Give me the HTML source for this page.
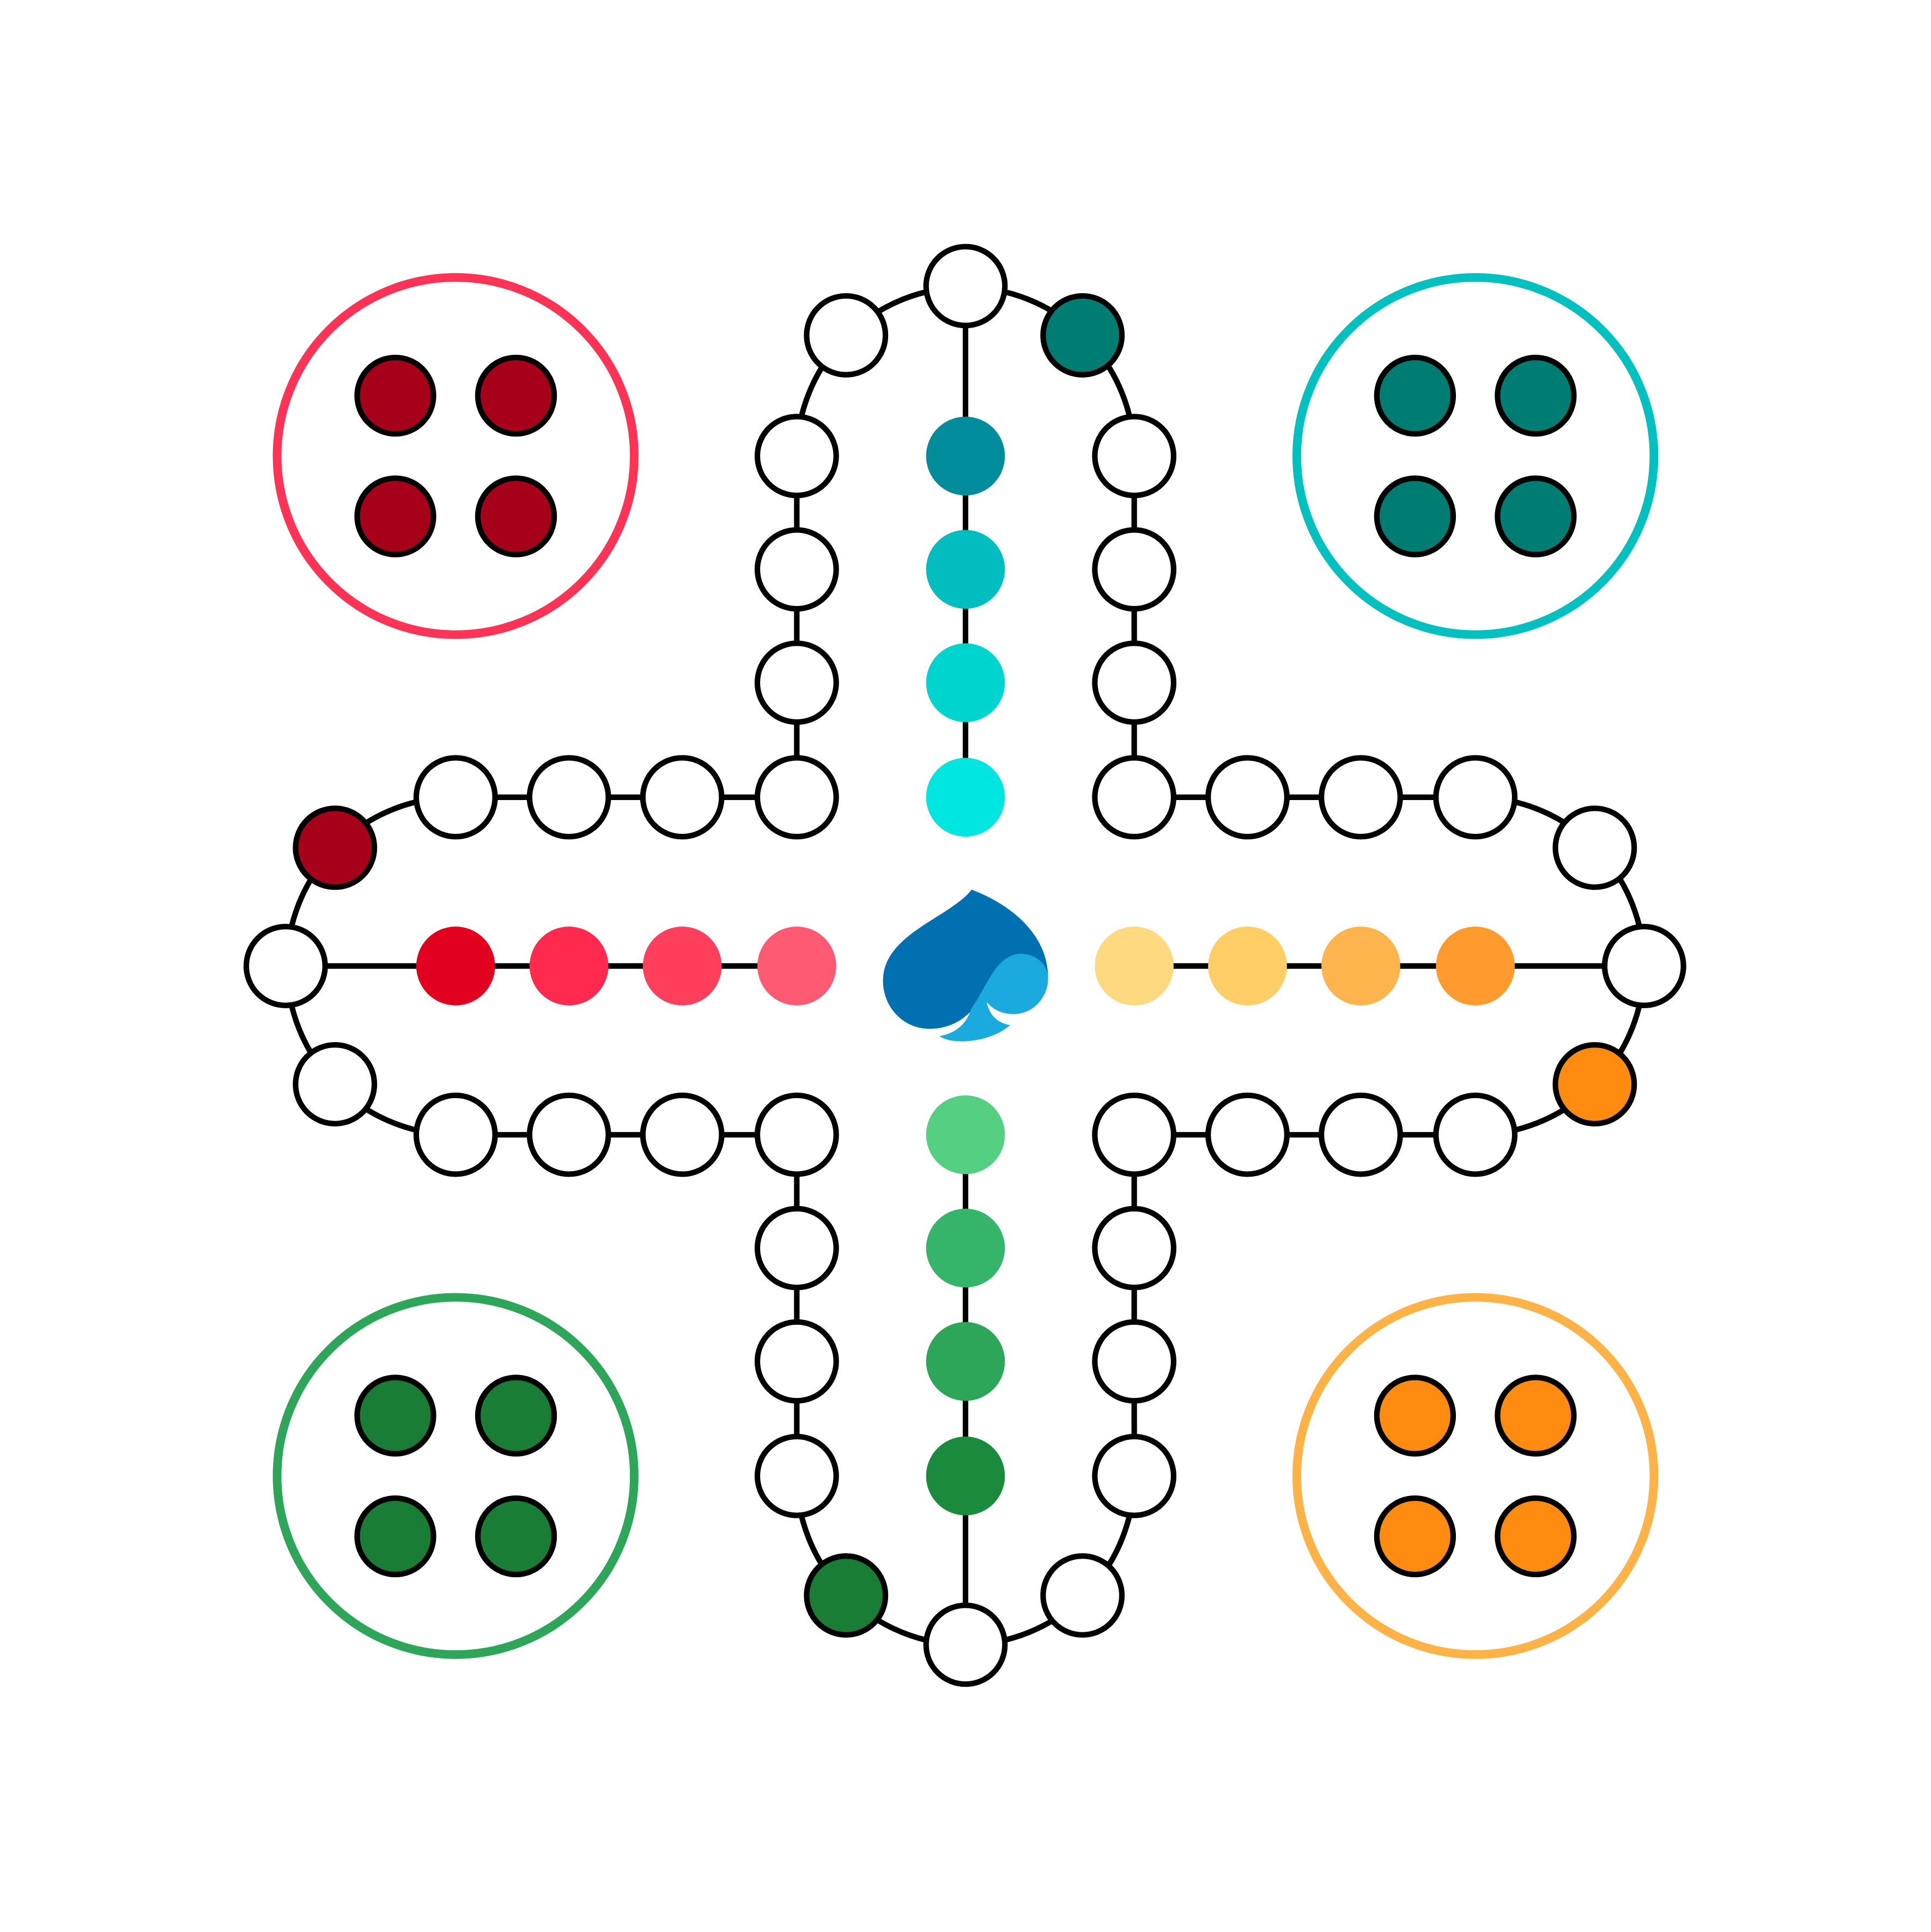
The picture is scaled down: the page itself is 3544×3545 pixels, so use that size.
<!DOCTYPE html>
<html><head><meta charset="utf-8"><style>html,body{margin:0;padding:0;background:#fff}svg{display:block}</style></head>
<body>
<svg id="board" width="3544" height="3545" viewBox="0 0 1568 1568" xmlns="http://www.w3.org/2000/svg">
<rect width="1568" height="1568" fill="#fff"/>
<g id="lines" stroke="#000" stroke-width="4.5" fill="none">
<line x1="784" y1="232" x2="784" y2="647"/>
<line x1="784" y1="921" x2="784" y2="1335"/>
<line x1="232" y1="784" x2="647" y2="784"/>
<line x1="921" y1="784" x2="1335" y2="784"/>
<polyline points="647,370 647,647 370,647"/>
<polyline points="921,370 921,647 1198,647"/>
<polyline points="370,921 647,921 647,1198"/>
<polyline points="1198,921 921,921 921,1198"/>
<path d="M647,370 A137,137 0 0 1 921,370"/>
<path d="M370,647 A137,137 0 0 0 370,921"/>
<path d="M1198,647 A137,137 0 0 1 1198,921"/>
<path d="M647,1198 A137,137 0 0 0 921,1198"/>
</g>
<g id="homes"></g>
<g id="nodes"></g>
<g id="logo">
<path d="M789,722 C818,733 850,756 851,792 C852,808 840,822 823,823 C813,823 806,819 801,813 C803,822 808,830 820,832 C806,845 775,849 763,841 C778,838 785,830 789,820 C780,830 768,835 755,835 C733,835 717,817 717,796 C717,758 771,745 789,722 Z" fill="#0070b0"/>
<path d="M789,818 C802,800 808,776 828,774 C842,774 850,783 851,792 C852,808 840,823 823,823 C813,823 806,819 801,813 C803,822 808,830 820,832 C806,845 775,849 763,841 C778,838 785,830 789,818 Z" fill="#1aaade"/>
</g>
</svg>
<script>
const NS='http://www.w3.org/2000/svg';
const homeCenters=[[370,370],[1198,370],[370,1198],[1198,1198]];
const homeRing=['#ff3355','#00c0c0','#2ea65a','#ffb347'];
const homeFill=['#a6001a','#007d73','#1a7d35','#ff8c10'];
const homeNames=['red','teal','green','orange'];
const whiteNodes=[[784,232],[687,272],[647,370],[647,462],[647,554],[647,647],[921,370],[921,462],[921,554],[921,647],
[554,647],[462,647],[370,647],[232,784],[272,880],[370,921],[462,921],[554,921],[647,921],
[1013,647],[1105,647],[1198,647],[1295,688],[1335,784],[921,921],[1013,921],[1105,921],[1198,921],
[647,1013],[647,1105],[647,1198],[784,1335],[879,1295],[921,1013],[921,1105],[921,1198]];
const startNodes=[[272,688,'#a6001a'],[879,272,'#007d73'],[1295,880,'#ff8c10'],[687,1295,'#1a7d35']];
const laneNodes=[[370,784,'#e2001f'],[462,784,'#ff2a4d'],[554,784,'#ff3f5b'],[647,784,'#ff5a73'],
[921,784,'#ffd97f'],[1013,784,'#ffce66'],[1105,784,'#ffb44d'],[1198,784,'#ff9a2e'],
[784,370,'#008c9a'],[784,462,'#00bdbf'],[784,554,'#00d4cf'],[784,647,'#00e5e0'],
[784,921,'#55cf82'],[784,1013,'#35b56a'],[784,1105,'#2ea65a'],[784,1198,'#1a8a3c']];
function circ(g,x,y,r,fill,stroke,sw){const c=document.createElementNS(NS,'circle');c.setAttribute('cx',x);c.setAttribute('cy',y);c.setAttribute('r',r);c.setAttribute('fill',fill);c.setAttribute('stroke',stroke);c.setAttribute('stroke-width',sw);g.appendChild(c);return c;}
const hg=document.getElementById('homes');
homeCenters.forEach((h,i)=>{
  const ring=circ(hg,h[0],h[1],145,'none',homeRing[i],7);
  
  
  [[-49,-49],[49,-49],[-49,49],[49,49]].forEach(o=>{
    const p=circ(hg,h[0]+o[0],h[1]+o[1]+(i<2?0:0),31,homeFill[i],'#000',4.5);
    
    
  });
});
const ng=document.getElementById('nodes');
whiteNodes.forEach(n=>{const c=circ(ng,n[0],n[1],32,'#fff','#000',4.5);

});
startNodes.forEach(n=>{const c=circ(ng,n[0],n[1],32,n[2],'#000',4.5);

});
laneNodes.forEach(n=>{const c=circ(ng,n[0],n[1],32,n[2],'none',0);

});
</script>
</body></html>
